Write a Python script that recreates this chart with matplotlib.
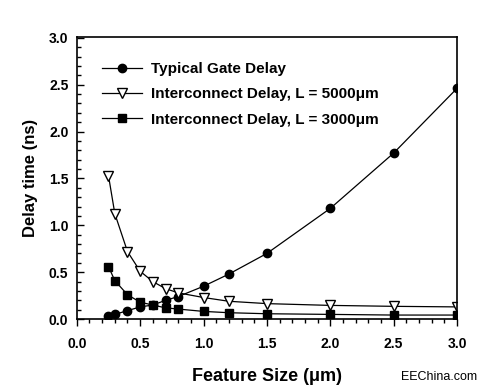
import matplotlib
matplotlib.use("Agg")
import matplotlib.pyplot as plt
from matplotlib.ticker import MultipleLocator

plt.rcParams['font.family'] = ['Liberation Sans', 'DejaVu Sans']

feature_size = [0.25, 0.3, 0.4, 0.5, 0.6, 0.7, 0.8, 1.0, 1.2, 1.5, 2.0, 2.5, 3.0]
gate_delay = [0.036, 0.05, 0.09, 0.13, 0.15, 0.20, 0.24, 0.35, 0.48, 0.70, 1.18, 1.77, 2.46]
inter_5000 = [1.53, 1.125, 0.72, 0.51, 0.40, 0.325, 0.28, 0.23, 0.19, 0.165, 0.146, 0.136, 0.13]
inter_3000 = [0.56, 0.41, 0.26, 0.18, 0.15, 0.12, 0.107, 0.082, 0.068, 0.057, 0.05, 0.043, 0.043]

labels = ["Typical Gate Delay",
          "Interconnect Delay, L = 5000\u03bcm",
          "Interconnect Delay, L = 3000\u03bcm"]
xticks = [0.0, 0.5, 1.0, 1.5, 2.0, 2.5, 3.0]
yticks = [0.0, 0.5, 1.0, 1.5, 2.0, 2.5, 3.0]

fig = plt.figure(figsize=(4.8, 3.92), dpi=100)
ax = fig.add_axes([0.160, 0.186, 0.792, 0.720])

ax.plot(feature_size, gate_delay, color='black', lw=0.9, marker='o', ms=6,
        mfc='black', mec='black', label=labels[0])
ax.plot(feature_size, inter_5000, color='black', lw=0.9, marker='v', ms=6.5,
        mfc='white', mec='black', mew=1.0, label=labels[1])
ax.plot(feature_size, inter_3000, color='black', lw=0.9, marker='s', ms=6,
        mfc='black', mec='black', label=labels[2])

ax.set_xlim(0, 3.0)
ax.set_ylim(0, 3.01)
ax.set_xticks(xticks)
ax.set_yticks(yticks)
ax.set_xticklabels([f"{v:.1f}" for v in xticks], fontweight='bold', fontsize=10)
ax.set_yticklabels([f"{v:.1f}" for v in yticks], fontweight='bold', fontsize=10)
ax.xaxis.set_minor_locator(MultipleLocator(0.1))
ax.yaxis.set_minor_locator(MultipleLocator(0.1))
ax.tick_params(axis='x', which='major', direction='out', length=5, width=1, pad=8)
ax.tick_params(axis='x', which='minor', direction='out', length=3, width=1)
ax.tick_params(axis='y', which='major', direction='in', length=5, width=1, pad=6)
ax.tick_params(axis='y', which='minor', direction='in', length=3, width=1)
for s in ax.spines.values():
    s.set_linewidth(1.2)

ax.set_xlabel("Feature Size (\u03bcm)", fontweight='bold', fontsize=13, labelpad=12)
ax.set_ylabel("Delay time (ns)", fontweight='bold', fontsize=12, labelpad=8)

leg = ax.legend(loc='upper left', frameon=False,
                prop={'size': 11, 'weight': 'bold'}, handlelength=2.6,
                bbox_to_anchor=(0.03, 0.96), labelspacing=0.75, handletextpad=0.6)

fig.text(0.835, 0.022, "EEChina.com", fontsize=9, ha='left', va='bottom')

fig.savefig("out.png", dpi=100)
